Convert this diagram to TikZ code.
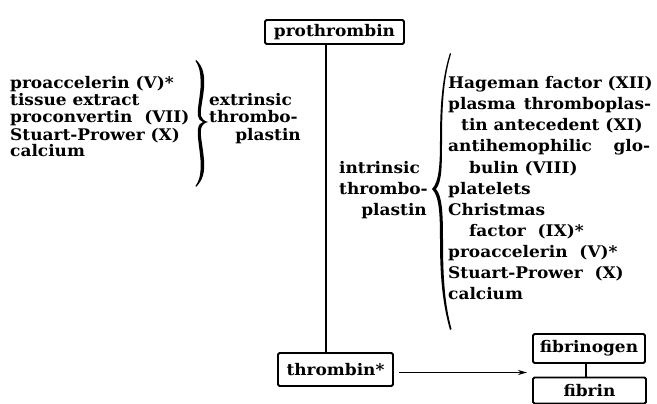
\documentclass[tikz,border=0pt]{standalone}
\usepackage{fontspec}
\setmainfont{DejaVu Serif}[BoldFeatures={FakeStretch=1.06}]
\usetikzlibrary{arrows.meta,calc}
\begin{document}
\begin{tikzpicture}[x=1pt,y=-1pt,
  txt/.style={font=\fontsize{16}{17}\selectfont\bfseries, inner sep=0pt, anchor=base west},
  txtr/.style={txt, anchor=base east},
  box/.style={draw, line width=1.8pt, rounded corners=1.5pt, font=\fontsize{16}{17}\selectfont\bfseries, inner sep=0pt},
  conn/.style={line width=1.6pt},
  bracefill/.style={fill=black}]
\useasboundingbox (0,0) rectangle (657,404);

% boxes
\node[box, minimum width=139pt, minimum height=24pt] (pro) at (334.5,32) {prothrombin};
\node[box, minimum width=115pt, minimum height=33pt] (thr) at (335.5,369.5) {thrombin*};
\node[box, minimum width=112pt, minimum height=29pt] (fbg) at (589,348.5) {fibrinogen};
\node[box, minimum width=113pt, minimum height=26pt] (fbn) at (589.5,390.5) {fibrin};

% connectors
\coordinate (vx) at (326,0);
\draw[conn] (pro.south -| vx) -- (thr.north -| vx);
\coordinate (fx) at (586,0);
\draw[conn] (fbg.south -| fx) -- (fbn.north -| fx);
\coordinate (aS) at (399,372.5);
\coordinate (aE) at (527,372.5);
\draw[conn, -{Stealth[length=9pt,width=5pt]}] (aS) -- (aE);

% left column
\node[txt] (l1) at (10,89) {proaccelerin (V)*};
\node[txt] (l2) at (10,106) {tissue extract};
\node[txt] (l3) at (10,123) {proconvertin\ \ (VII)};
\node[txt] (l4) at (10,140) {Stuart-Prower (X)};
\node[txt] (l5) at (10,157) {calcium};

% left brace
\fill[bracefill] (196,60) .. controls (203,66) and (205,75) .. (204,88)
  .. controls (203,100) and (200,110) .. (201,116)
  .. controls (202,119) and (204,121) .. (208,122)
  .. controls (204,123) and (202,125) .. (201,129)
  .. controls (200,136) and (203,147) .. (204,160)
  .. controls (205,172) and (203,180) .. (196,187)
  -- (195.5,186) .. controls (200.5,179) and (201,171) .. (200.5,160)
  .. controls (199.5,147) and (197,136) .. (198,129)
  .. controls (198.5,125) and (200,123) .. (203,122)
  .. controls (200,121) and (198.5,119) .. (198,116)
  .. controls (197,110) and (199.5,100) .. (200.5,88)
  .. controls (201,76) and (200,67) .. (195.5,61) -- cycle;

% extrinsic
\node[txt] (e1) at (209,106) {extrinsic};
\node[txt] (e2) at (209,123) {thrombo-};
\node[txtr] (e3) at (301,140) {plastin};

% intrinsic
\node[txt] (i1) at (339,173) {intrinsic};
\node[txt] (i2) at (339,194) {thrombo-};
\node[txtr] (i3) at (427,215) {plastin};

% right brace
\fill[bracefill] (450,53) .. controls (443,75) and (440,100) .. (440,140)
  .. controls (440,165) and (439,182) .. (432,189)
  .. controls (439,196) and (440,212) .. (440,240)
  .. controls (440,280) and (443,305) .. (450,330)
  -- (451.5,329) .. controls (445,305) and (443,280) .. (443,240)
  .. controls (443,212) and (442,196) .. (436,189)
  .. controls (442,182) and (442,165) .. (442,140)
  .. controls (442,100) and (444.5,75) .. (451,54) -- cycle;

% right column
\node[txt] (r1) at (448,89) {Hageman factor (XII)};
\node[txt] (r2) at (448,110) {\makebox[203pt][s]{plasma thromboplas-}};
\node[txt] (r3) at (461,131) {tin antecedent (XI)};
\node[txt] (r4) at (448,152) {\makebox[202pt][s]{antihemophilic glo-}};
\node[txt] (r5) at (469,173) {bulin (VIII)};
\node[txt] (r6) at (448,194) {platelets};
\node[txt] (r7) at (448,215) {Christmas};
\node[txt] (r8) at (469,236) {factor\ \ (IX)*};
\node[txt] (r9) at (448,257) {proaccelerin\ \ (V)*};
\node[txt] (r10) at (448,278) {Stuart-Prower\ \ (X)};
\node[txt] (r11) at (448,299) {calcium};
\end{tikzpicture}
\end{document}
